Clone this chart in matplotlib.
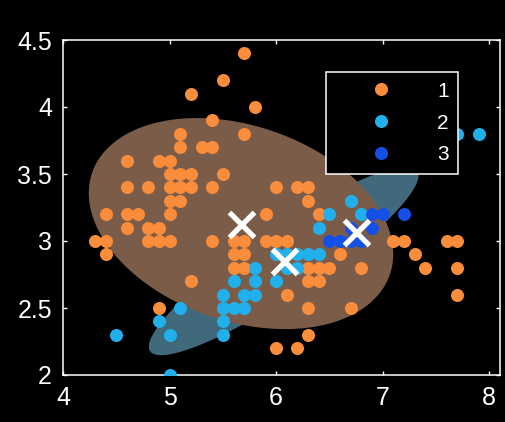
import matplotlib.pyplot as plt
import numpy as np
from matplotlib.lines import Line2D

plt.rcParams['font.family'] = ['Liberation Sans', 'DejaVu Sans']

# cluster 1 (orange)
x1 = [4.3, 4.4, 4.4, 4.4, 4.6, 4.6, 4.6, 4.6, 4.7, 4.8, 4.8, 4.8, 4.9, 4.9, 4.9,
      5.0, 5.0, 5.0, 5.0, 5.0, 5.0, 5.1, 5.1, 5.1, 5.1, 5.1, 5.2, 5.2, 5.2, 5.3,
      5.4, 5.4, 5.4, 5.5, 5.5, 5.7, 5.7, 5.8,
      6.4, 6.5, 5.7, 6.3, 6.6, 5.2, 5.9, 6.0, 5.6, 5.6, 6.2, 5.9, 6.3, 6.8, 5.4,
      6.0, 6.3, 6.1, 5.7, 5.7, 7.1, 7.6, 4.9, 7.3, 6.7, 6.4, 7.7, 5.6, 7.7, 6.3,
      6.4, 7.2, 7.4, 6.1, 7.7, 6.3, 6.0, 6.2, 6.3, 7.2]
y1 = [3.0, 2.9, 3.0, 3.2, 3.1, 3.2, 3.4, 3.6, 3.2, 3.0, 3.1, 3.4, 3.0, 3.1, 3.6,
      3.0, 3.2, 3.3, 3.4, 3.5, 3.6, 3.3, 3.4, 3.5, 3.7, 3.8, 3.4, 3.5, 4.1, 3.7,
      3.4, 3.7, 3.9, 3.5, 4.2, 3.8, 4.4, 4.0,
      3.2, 2.8, 2.8, 3.3, 2.9, 2.7, 3.0, 2.2, 2.9, 3.0, 2.2, 3.2, 2.5, 2.8, 3.0,
      3.4, 2.3, 3.0, 3.0, 2.9, 3.0, 3.0, 2.5, 2.9, 2.5, 2.7, 2.6, 2.8, 2.8, 2.7,
      2.8, 3.0, 2.8, 2.6, 3.0, 3.4, 3.0, 3.4, 2.8, 3.6]

# cluster 2 (light blue)
x2 = [4.5, 5.5, 4.9, 5.0, 6.1, 5.8, 5.6, 6.1, 6.4, 5.7, 5.5, 6.0, 5.5, 5.5, 5.8,
      5.0, 5.6, 6.2, 5.1, 6.5, 5.7, 5.8, 7.7, 6.7, 6.2, 7.9, 6.4, 6.3, 6.0, 6.8]
y2 = [2.3, 2.3, 2.4, 2.0, 2.9, 2.7, 2.5, 2.8, 2.9, 2.6, 2.4, 2.7, 2.5, 2.6, 2.6,
      2.3, 2.7, 2.9, 2.5, 3.2, 2.5, 2.8, 3.8, 3.3, 2.8, 3.8, 3.1, 2.9, 2.9, 3.2]

# cluster 3 (dark blue)
x3 = [7.0, 6.9, 6.7, 6.6, 6.7, 6.5, 6.8, 6.9, 7.2]
y3 = [3.2, 3.1, 3.1, 3.0, 3.0, 3.0, 3.0, 3.2, 3.2]

# cluster centres and ellipse shapes
centres = [(5.67, 3.13), (6.07, 2.85), (6.75, 3.07)]
shape1 = [[2.04, -0.325], [-0.325, 0.62]]
shape2 = [[1.60, 0.807], [0.807, 0.493]]

labels = ['1', '2', '3']
colors = ['#F98D3B', '#22B0EC', '#1450E6']

fig = plt.figure(figsize=(5.06, 4.22), dpi=100, facecolor='black')
ax = fig.add_axes([63/506, 1-375/422, 437/506, 335/422])
ax.set_facecolor('black')

t = np.linspace(0, 2*np.pi, 300)
circ = np.vstack([np.cos(t), np.sin(t)])

def ellipse(c, s, col):
    L = np.linalg.cholesky(np.array(s))
    p = L @ circ
    ax.fill(c[0] + p[0], c[1] + p[1], color=col, lw=0, zorder=1)

ellipse(centres[1], shape2, '#40697C')
ellipse(centres[0], shape1, '#7A5C48')

ax.scatter(x1, y1, s=88, color=colors[0], lw=0, zorder=3)
ax.scatter(x2, y2, s=88, color=colors[1], lw=0, zorder=3)
ax.scatter(x3, y3, s=88, color=colors[2], lw=0, zorder=3)

cx = [c[0] for c in centres]
cy = [c[1] for c in centres]
ax.plot(cx, cy, 'x', color='white', ms=18, mew=3.8, ls='none', zorder=4)

ax.set_xlim(4, 8.1)
ax.set_ylim(2, 4.5)
ax.set_xticks([4, 5, 6, 7, 8])
ax.set_yticks([2, 2.5, 3, 3.5, 4, 4.5])
ax.set_yticklabels(['2', '2.5', '3', '3.5', '4', '4.5'])
ax.tick_params(colors='white', direction='in', length=3, width=1,
               top=True, right=True, labelsize=18, pad=8)
for sp in ax.spines.values():
    sp.set_color('white')
    sp.set_linewidth(1.1)

handles = [Line2D([], [], marker='o', ls='none', ms=9.4, color=c, mew=0)
           for c in colors]
leg = ax.legend(handles, labels, loc='upper left',
                bbox_to_anchor=((326-63)/437, (375-72)/335),
                borderaxespad=0, fontsize=15, handlelength=4.37,
                handletextpad=0.5, labelspacing=0.62, borderpad=0.46,
                fancybox=False, framealpha=1, facecolor='black',
                edgecolor='white', labelcolor='white')
leg.get_frame().set_linewidth(1.1)
leg.set_zorder(10)

fig.savefig('out.png', dpi=100, facecolor='black')
